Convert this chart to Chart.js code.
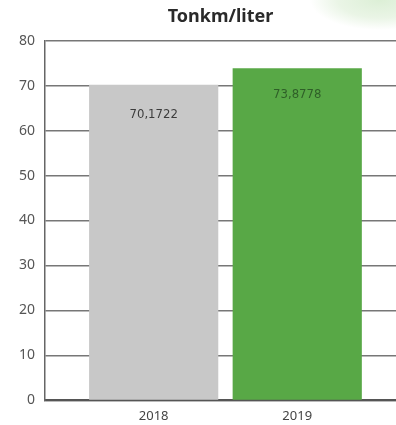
<!DOCTYPE html>
<html>
<head>
<meta charset="utf-8">
<script src="https://cdn.jsdelivr.net/npm/chart.js@4/dist/chart.umd.min.js"></script>
<style>
  html, body { margin: 0; padding: 0; }
  body {
    width: 396px; height: 425px; overflow: hidden;
    background: radial-gradient(ellipse 70px 30px at 380px 0px, #dcefd6 0%, #eaf5e6 60%, #ffffff 100%);
  }
  #wrap { position: relative; width: 396px; height: 424px; }
</style>
</head>
<body>
<div id="wrap"><canvas id="chart"></canvas></div>
<script>
const years = [2018, 2019];
const tonkmPerLiter = [70.1722, 73.8778];
const valueLabels = ["70,1722", "73,8778"];
const barColors = ["#c8c8c8", "#58a846"];
const labelColors = ["#3c3c3c", "#2f5f28"];
const yTicks = [0, 10, 20, 30, 40, 50, 60, 70, 80];

const valueLabelPlugin = {
  id: "valueLabels",
  afterDatasetsDraw(chart) {
    const ctx = chart.ctx;
    const meta = chart.getDatasetMeta(0);
    ctx.save();
    ctx.font = "13px 'DejaVu Sans Condensed', 'Noto Sans'";
    ctx.textAlign = "center";
    ctx.textBaseline = "middle";
    meta.data.forEach((bar, i) => {
      const off = i === 0 ? 30 : 26;
      ctx.fillStyle = labelColors[i];
      ctx.fillText(valueLabels[i], bar.x, bar.y + off);
    });
    ctx.restore();
  }
};

new Chart(document.getElementById("chart"), {
  type: "bar",
  data: {
    datasets: [{
      data: years.map((y, i) => ({ x: y, y: tonkmPerLiter[i] })),
      backgroundColor: barColors,
      borderWidth: 0,
      categoryPercentage: 0.9,
      barPercentage: 1
    }]
  },
  options: {
    responsive: true,
    maintainAspectRatio: false,
    animation: false,
    layout: { padding: { left: 9, right: 0, top: 6, bottom: 0 } },
    plugins: {
      legend: { display: false },
      tooltip: { enabled: false },
      title: {
        display: true,
        text: "Tonkm/liter",
        fullSize: false,
        color: "#2a2a2a",
        font: { family: "'Noto Sans'", size: 18, weight: "bold" },
        padding: { top: 0, bottom: 13 }
      }
    },
    scales: {
      x: {
        type: "linear",
        min: 2017.243,
        max: 2019.688,
        offset: false,
        afterBuildTicks: (scale) => { scale.ticks = years.map(v => ({ value: v })); },
        ticks: {
          color: "#444",
          font: { family: "'Noto Sans'", size: 13 },
          padding: 0,
          callback: (v) => String(v)
        },
        grid: { display: false },
        border: { display: true, color: "#555", width: 2 }
      },
      y: {
        min: 0,
        max: 80,
        afterBuildTicks: (scale) => { scale.ticks = yTicks.map(v => ({ value: v })); },
        ticks: {
          color: "#555",
          font: { family: "'Noto Sans'", size: 14 },
          padding: 10
        },
        grid: { color: "#777", lineWidth: 1.5, drawTicks: false },
        border: { display: true, color: "#666", width: 1.5 }
      }
    }
  },
  plugins: [valueLabelPlugin]
});
</script>
</body>
</html>
